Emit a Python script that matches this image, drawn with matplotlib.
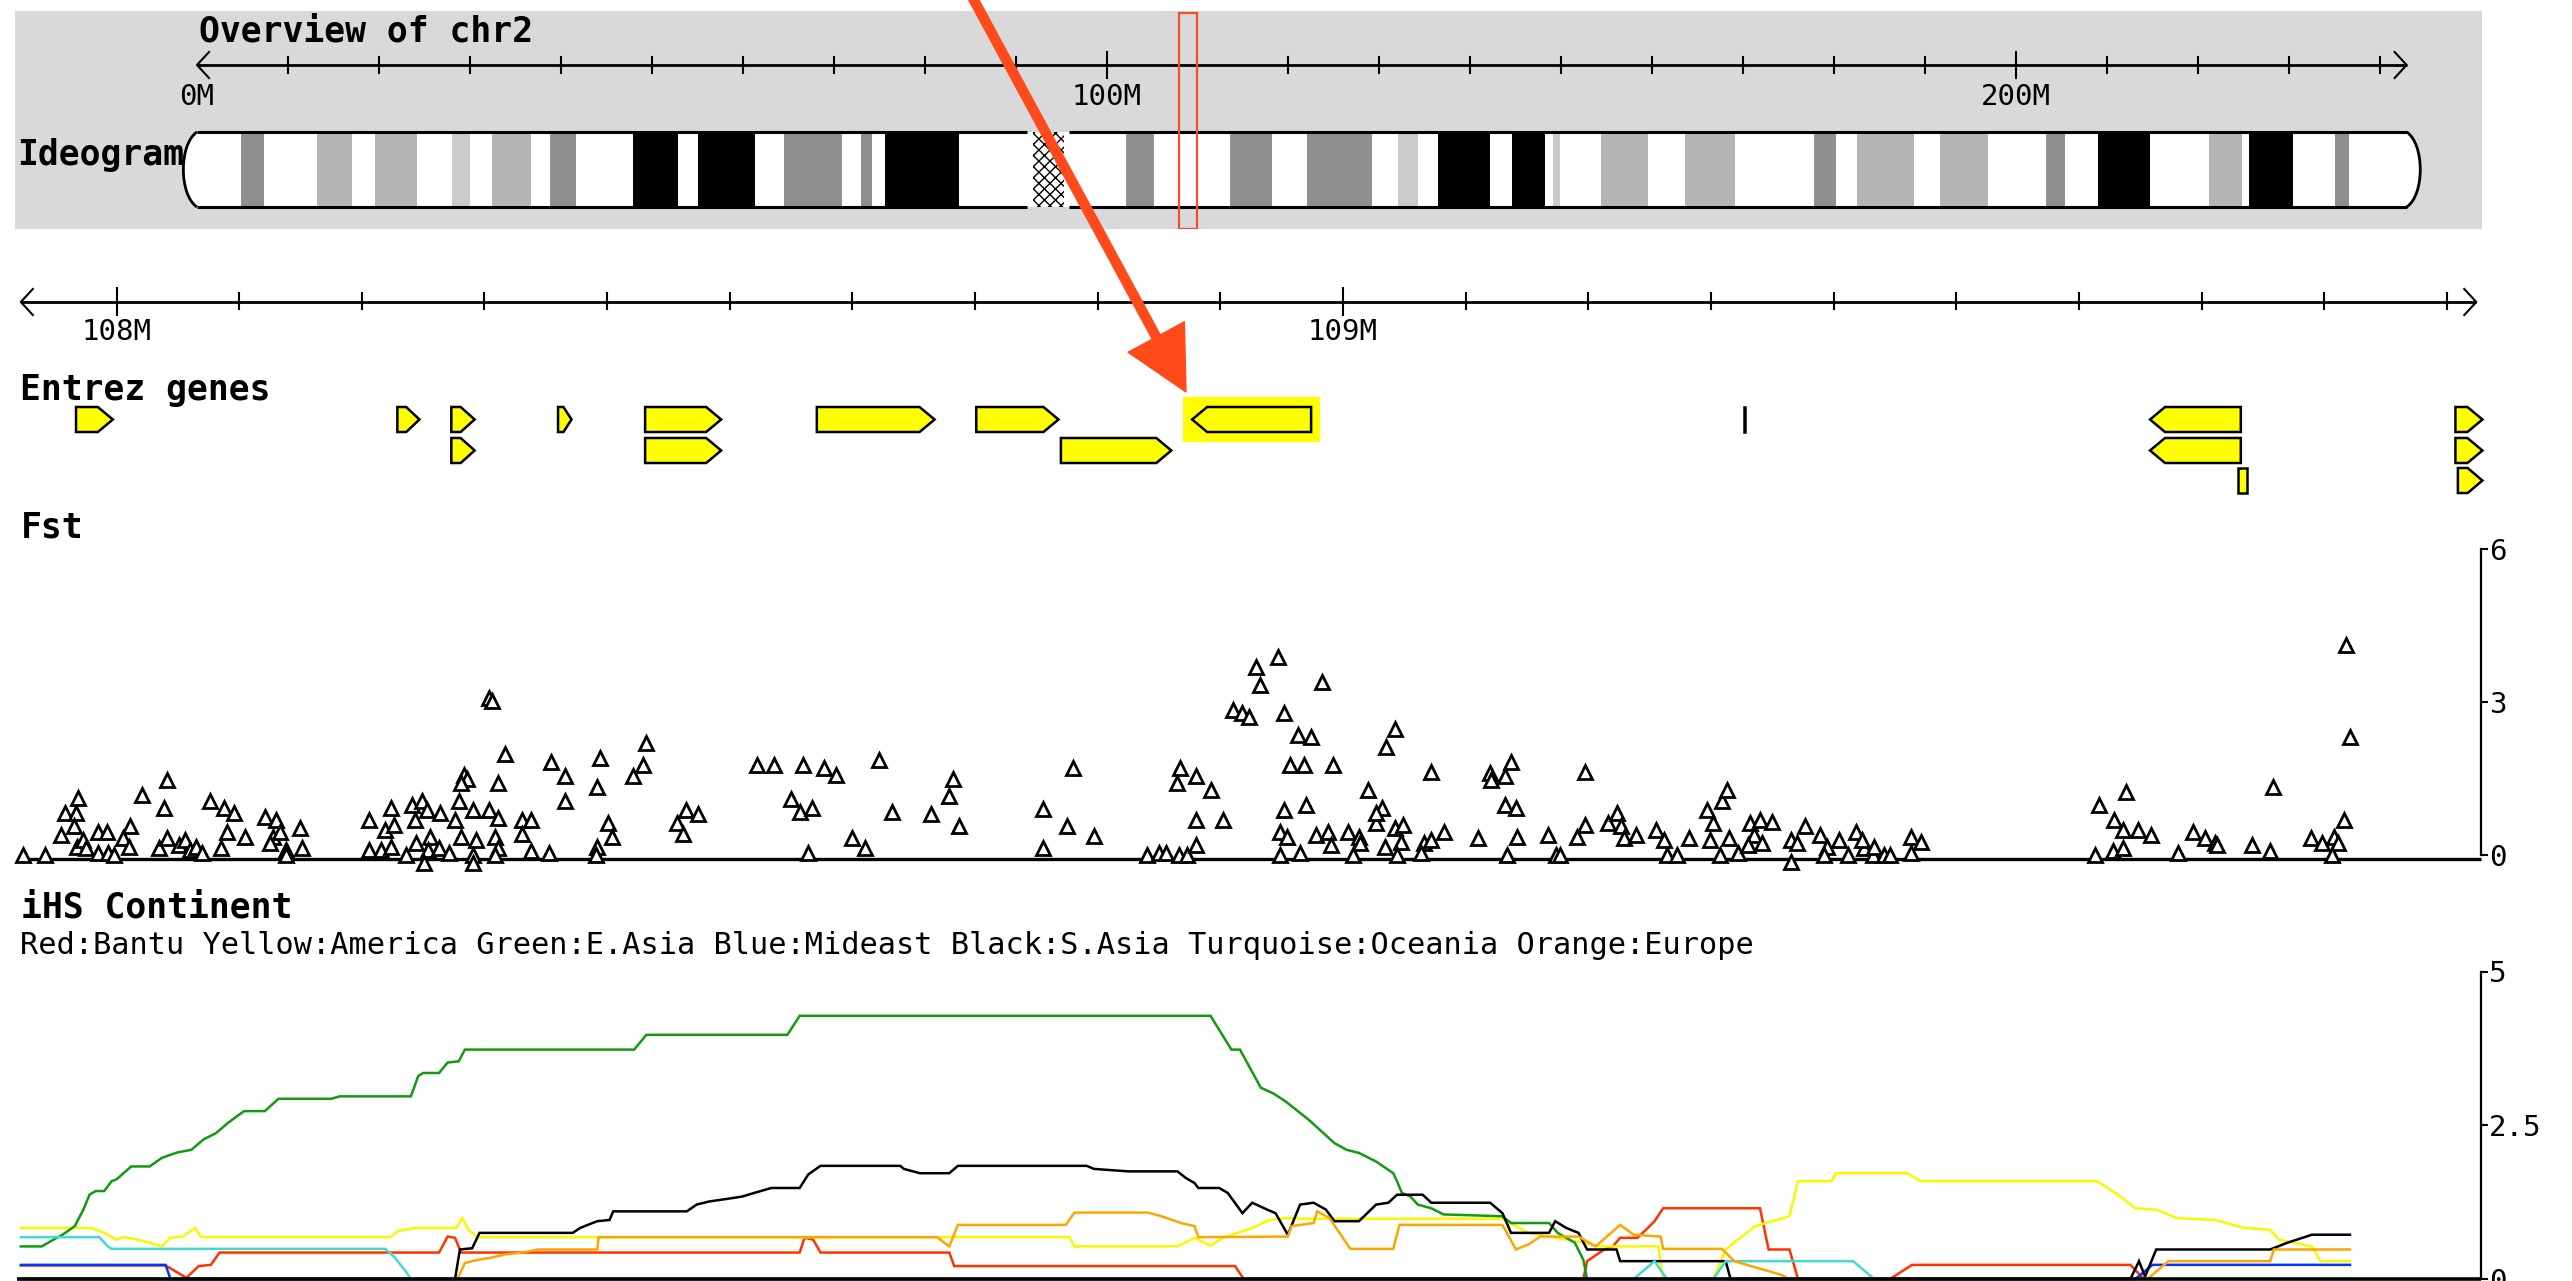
import matplotlib
matplotlib.use("Agg")
import matplotlib.pyplot as plt
from matplotlib.patches import Rectangle, Polygon, PathPatch, FancyArrowPatch, ArrowStyle
from matplotlib.path import Path

# ------------------------------------------------------------------ data
chrom_name = "chr2"
chrom_length_mb = 242.95
centromere_mb = (91.3, 95.9)
band_start = [4.8, 13.2, 19.6, 28.0, 32.4, 38.8, 47.9, 55.1, 64.5, 73.0, 75.7, 102.1,
              113.6, 122.1, 132.1, 136.5, 144.6, 149.1, 154.4, 163.6, 177.8, 182.5,
              191.6, 203.3, 209.0, 221.2, 225.6, 235.1]
band_end = [7.4, 17.0, 24.2, 30.0, 36.7, 41.7, 52.9, 61.3, 70.9, 74.2, 83.8, 105.2,
            118.2, 129.2, 134.3, 142.2, 148.2, 149.9, 159.5, 169.1, 180.2, 188.8,
            196.9, 205.4, 214.7, 224.9, 230.5, 236.6]
band_stain = ['gpos75', 'gpos50', 'gpos50', 'gpos25', 'gpos50', 'gpos75', 'gpos100',
              'gpos100', 'gpos75', 'gpos75', 'gpos100', 'gpos75', 'gpos75', 'gpos75',
              'gpos25', 'gpos100', 'gpos100', 'gpos25', 'gpos50', 'gpos50', 'gpos75',
              'gpos50', 'gpos50', 'gpos75', 'gpos100', 'gpos50', 'gpos100', 'gpos75']
overview_minor_ticks = list(range(10, 250, 10))
overview_labels = {0: "0M", 100: "100M", 200: "200M"}

window_start, window_end = 107.922, 109.924
detail_ticks = [round(108.0 + 0.1 * i, 1) for i in range(20)]
detail_labels = {108.0: "108M", 109.0: "109M"}

gene_start = [107.967, 108.229, 108.273, 108.360, 108.431, 108.571, 108.701, 108.877,
              109.327, 109.658, 109.907,
              108.273, 108.431, 108.770, 109.658, 109.907,
              109.730, 109.909]
gene_end = [107.997, 108.247, 108.292, 108.371, 108.493, 108.667, 108.768, 108.974,
            109.328, 109.732, 109.929,
            108.292, 108.493, 108.860, 109.732, 109.929,
            109.737, 109.929]
gene_strand = ['+', '+', '+', '+', '+', '+', '+', '-', '.', '-', '+',
               '+', '+', '+', '-', '+',
               '.', '+']
gene_row = [0, 0, 0, 0, 0, 0, 0, 0, 0, 0, 0,
            1, 1, 1, 1, 1,
            2, 2]
highlight_gene = 7

fst_pos = [
    107.924, 107.942, 107.955, 107.958, 107.967, 107.969, 107.965, 107.968, 107.973, 107.975,
    107.985, 107.992, 107.985, 107.993, 107.998, 108.005, 108.010, 108.011, 108.021, 108.041,
    108.039, 108.035, 108.041, 108.051, 108.056, 108.060, 108.065, 108.070, 108.076, 108.088,
    108.096, 108.090, 108.105, 108.085, 108.121, 108.130, 108.128, 108.133, 108.125, 108.138,
    108.150, 108.151, 108.138, 108.206, 108.224, 108.219, 108.226, 108.206, 108.216, 108.224,
    108.241, 108.249, 108.253, 108.243, 108.264, 108.276, 108.256, 108.244, 108.254, 108.263,
    108.271, 108.236, 108.251, 108.279, 108.283, 108.286, 108.281, 108.291, 108.281, 108.293,
    108.291, 108.291, 108.304, 108.306, 108.317, 108.311, 108.304, 108.311, 108.309, 108.311,
    108.309, 108.331, 108.338, 108.331, 108.338, 108.353, 108.354, 108.366, 108.366, 108.394,
    108.392, 108.401, 108.404, 108.392, 108.391, 108.421,
    108.432, 108.429, 108.464, 108.474, 108.457, 108.462, 108.522, 108.536, 108.560, 108.577,
    108.587, 108.622, 108.550, 108.557, 108.567, 108.564, 108.600, 108.610, 108.632, 108.664,
    108.682, 108.679, 108.687, 108.755, 108.755, 108.775, 108.797, 108.780, 108.840, 108.850,
    108.856, 108.866, 108.873, 108.880, 108.880, 108.902, 108.867, 108.865, 108.880, 108.892,
    108.910, 108.918, 108.923,
    108.929, 108.932, 108.947, 108.983, 108.952, 108.963, 108.974, 108.957, 108.968, 108.992,
    109.042, 109.035, 109.020, 109.072, 109.120, 109.121, 109.132, 109.137, 109.197, 108.952,
    108.970, 108.949, 108.954, 108.949, 108.965, 108.978, 108.988, 108.990, 109.004, 109.013,
    109.014, 109.008, 109.027, 109.032, 109.027, 109.034, 109.042, 109.049, 109.047, 109.044,
    109.066, 109.072, 109.082, 109.064, 109.110, 109.132, 109.141, 109.142, 109.134, 109.167,
    109.174, 109.177, 109.191, 109.197, 109.216, 109.223, 109.227, 109.229, 109.239, 109.255,
    109.262, 109.264, 109.272, 109.282, 109.297, 109.302, 109.309, 109.313, 109.299, 109.307,
    109.315, 109.322, 109.332, 109.340, 109.350, 109.335, 109.342, 109.330, 109.365, 109.365,
    109.377, 109.370, 109.389, 109.395, 109.404, 109.392, 109.412, 109.418, 109.425, 109.432,
    109.423, 109.433, 109.441, 109.446, 109.463, 109.471, 109.463, 109.613, 109.616, 109.638,
    109.629, 109.636, 109.648, 109.659, 109.628, 109.636, 109.681, 109.693, 109.703, 109.711,
    109.713, 109.741, 109.756, 109.758, 109.789, 109.798, 109.808, 109.811, 109.816, 109.806,
    109.818, 109.821]
fst_val = [
    0, 0, 0.39, 0.82, 0.82, 1.11, 0.56, 0.16, 0.29, 0.13,
    0.46, 0.46, 0.03, 0.03, 0, 0.33, 0.16, 0.56, 1.18, 1.47,
    0.92, 0.13, 0.33, 0.20, 0.29, 0.10, 0.16, 0.03, 1.05, 0.92,
    0.82, 0.46, 0.36, 0.13, 0.75, 0.69, 0.36, 0.46, 0.23, 0.10,
    0.52, 0.13, 0, 0.69, 0.92, 0.49, 0.59, 0.10, 0.10, 0.16,
    0.98, 1.05, 0.88, 0.69, 0.82, 0.69, 0.36, 0.23, 0.10, 0.13,
    0.03, 0, -0.16, 1.05, 1.57, 1.50, 1.41, 0.88, 0.36, 0.29,
    0, -0.16, 3.07, 3.01, 1.99, 1.41, 0.88, 0.72, 0.36, 0.13,
    0, 0.69, 0.69, 0.42, 0.07, 0.03, 1.83, 1.54, 1.05, 1.90,
    1.34, 0.62, 0.36, 0.16, 0, 1.54,
    2.19, 1.76, 0.88, 0.80, 0.62, 0.41, 1.76, 1.76, 1.76, 1.70,
    1.57, 1.86, 1.09, 0.85, 0.92, 0.03, 0.33, 0.14, 0.85, 0.80,
    1.50, 1.16, 0.56, 0.90, 0.13, 0.56, 0.37, 1.70, 0, 0.03,
    0.03, 0, 0, 0.20, 0.69, 0.69, 1.70, 1.41, 1.54, 1.27,
    2.84, 2.78, 2.71,
    3.69, 3.33, 3.89, 3.40, 2.78, 2.35, 2.32, 1.76, 1.76, 1.76,
    2.48, 2.12, 1.27, 1.63, 1.60, 1.47, 1.54, 1.83, 1.63, 0.88,
    0.98, 0.46, 0.36, 0, 0.03, 0.39, 0.46, 0.20, 0.46, 0.36,
    0.23, 0, 0.62, 0.92, 0.82, 0.16, 0.52, 0.59, 0.26, 0,
    0.23, 0.29, 0.46, 0.03, 0.33, 0.98, 0.92, 0.36, 0, 0.39,
    0, 0, 0.36, 0.59, 0.62, 0.82, 0.56, 0.33, 0.39, 0.49,
    0.29, 0, 0, 0.33, 0.88, 0.62, 1.05, 1.27, 0.29, 0,
    0.33, 0.03, 0.62, 0.69, 0.65, 0.39, 0.23, 0.20, 0.29, -0.13,
    0.56, 0.23, 0.39, 0.16, 0.29, 0, 0, 0.46, 0.13, 0,
    0.29, 0.16, 0, 0, 0.36, 0.26, 0.03, 0, 0.98, 1.24,
    0.69, 0.49, 0.49, 0.39, 0.07, 0.13, 0.03, 0.46, 0.33, 0.23,
    0.20, 0.20, 0.07, 1.34, 0.33, 0.23, 0.36, 0.23, 0.69, 0,
    4.12, 2.32]
fst_ticks = [0, 3, 6]

ihs_red_pos = [107.922, 108.040, 108.057, 108.067, 108.077, 108.084, 108.263, 108.270, 108.276,
               108.281, 108.557, 108.561, 108.568, 108.574, 108.679, 108.683, 108.912, 108.919,
               109.196, 109.199, 109.213, 109.220, 109.226, 109.240, 109.247, 109.254, 109.261,
               109.340, 109.347, 109.364, 109.371, 109.446, 109.464, 109.642, 109.653]
ihs_red_val = [0.22, 0.22, 0.02, 0.21, 0.23, 0.43, 0.43, 0.69, 0.67, 0.43, 0.43, 0.67, 0.64,
               0.43, 0.43, 0.21, 0.21, 0.0, 0.0, 0.29, 0.48, 0.53, 0.67, 0.67, 0.80, 0.94, 1.15,
               1.15, 0.48, 0.48, 0.0, 0.0, 0.23, 0.23, 0.0]
ihs_yellow_pos = [107.922, 107.979, 107.990, 108.000, 108.006, 108.017, 108.027, 108.037,
                  108.044, 108.054, 108.064, 108.069, 108.223, 108.230, 108.243, 108.277,
                  108.282, 108.287, 108.294, 108.777, 108.781, 108.865, 108.879, 108.892,
                  108.902, 108.926, 108.940, 108.953, 108.965, 109.130, 109.151, 109.171,
                  109.196, 109.209, 109.257, 109.261, 109.302, 109.312, 109.336, 109.364,
                  109.371, 109.398, 109.402, 109.460, 109.471, 109.615, 109.632, 109.646,
                  109.663, 109.680, 109.711, 109.735, 109.756, 109.763, 109.790, 109.797,
                  109.821]
ihs_yellow_val = [0.83, 0.83, 0.75, 0.64, 0.68, 0.64, 0.59, 0.53, 0.67, 0.69, 0.83, 0.68,
                  0.68, 0.78, 0.83, 0.83, 0.99, 0.80, 0.68, 0.68, 0.53, 0.53, 0.67, 0.54,
                  0.67, 0.83, 0.96, 0.99, 0.98, 0.98, 0.75, 0.68, 0.59, 0.53, 0.53, 0.0,
                  0.0, 0.48, 0.86, 1.02, 1.59, 1.59, 1.72, 1.72, 1.59, 1.59, 1.37, 1.15,
                  1.13, 0.99, 0.96, 0.83, 0.80, 0.64, 0.53, 0.29, 0.29]
ihs_green_pos = [107.922, 107.939, 107.946, 107.956, 107.966, 107.973, 107.978, 107.983,
                 107.990, 107.996, 108.000, 108.012, 108.027, 108.037, 108.044, 108.050,
                 108.061, 108.071, 108.081, 108.091, 108.104, 108.121, 108.132, 108.175,
                 108.182, 108.240, 108.246, 108.250, 108.263, 108.270, 108.279, 108.284,
                 108.422, 108.432, 108.547, 108.557, 108.892, 108.909, 108.916, 108.933,
                 108.943, 108.953, 108.972, 108.993, 109.003, 109.013, 109.027, 109.041,
                 109.044, 109.048, 109.055, 109.061, 109.072, 109.082, 109.130, 109.137,
                 109.168, 109.175, 109.189, 109.196, 109.199]
ihs_green_val = [0.53, 0.53, 0.61, 0.72, 0.86, 1.13, 1.37, 1.43, 1.43, 1.59, 1.62, 1.83,
                 1.83, 1.97, 2.02, 2.06, 2.10, 2.27, 2.37, 2.54, 2.73, 2.73, 2.93, 2.93,
                 2.97, 2.97, 3.30, 3.35, 3.35, 3.52, 3.54, 3.73, 3.73, 3.97, 3.97, 4.28,
                 4.28, 3.73, 3.73, 3.11, 3.02, 2.89, 2.59, 2.21, 2.10, 2.05, 1.91, 1.72,
                 1.59, 1.40, 1.34, 1.21, 1.15, 1.05, 1.02, 0.91, 0.91, 0.75, 0.59, 0.31, 0.0]
ihs_blue_pos = [107.922, 108.040, 108.044, 109.646, 109.660, 109.821]
ihs_blue_val = [0.23, 0.23, 0.0, 0.0, 0.23, 0.23]
ihs_black_pos = [107.922, 108.276, 108.280, 108.290, 108.296, 108.372, 108.378, 108.388,
                 108.392, 108.402, 108.405, 108.465, 108.473, 108.483, 108.497, 108.510,
                 108.520, 108.534, 108.557, 108.564, 108.574, 108.639, 108.642, 108.655,
                 108.679, 108.686, 108.791, 108.797, 108.825, 108.865, 108.872, 108.879,
                 108.882, 108.899, 108.906, 108.918, 108.926, 108.938, 108.945, 108.955,
                 108.965, 108.976, 108.986, 108.993, 109.013, 109.027, 109.037, 109.044,
                 109.065, 109.072, 109.120, 109.130, 109.137, 109.168, 109.173, 109.182,
                 109.192, 109.199, 109.223, 109.226, 109.312, 109.316, 109.642, 109.649,
                 109.654, 109.663, 109.756, 109.770, 109.790, 109.821]
ihs_black_val = [0.0, 0.0, 0.48, 0.50, 0.75, 0.75, 0.83, 0.91, 0.94, 0.96, 1.10, 1.10,
                 1.21, 1.26, 1.30, 1.34, 1.40, 1.48, 1.48, 1.70, 1.84, 1.84, 1.79, 1.72,
                 1.72, 1.84, 1.84, 1.79, 1.75, 1.75, 1.64, 1.56, 1.48, 1.48, 1.40, 1.07,
                 1.24, 1.13, 1.07, 0.72, 1.21, 1.24, 1.13, 0.94, 0.94, 1.21, 1.24, 1.37,
                 1.37, 1.24, 1.24, 1.07, 0.75, 0.75, 0.94, 0.83, 0.75, 0.48, 0.48, 0.29,
                 0.29, 0.0, 0.0, 0.29, 0.04, 0.48, 0.48, 0.59, 0.72, 0.72]
ihs_turq_pos = [107.922, 107.986, 107.993, 107.996, 108.219, 108.226, 108.236, 108.240,
                109.237, 109.254, 109.264, 109.302, 109.312, 109.416, 109.433]
ihs_turq_val = [0.68, 0.68, 0.53, 0.49, 0.49, 0.37, 0.12, 0.0, 0.0, 0.29, 0.0, 0.0,
                0.29, 0.29, 0.0]
ihs_orange_pos = [108.278, 108.284, 108.294, 108.304, 108.317, 108.331, 108.344, 108.392,
                  108.393, 108.669, 108.679, 108.686, 108.774, 108.781, 108.841, 108.852,
                  108.868, 108.879, 108.882, 108.955, 108.958, 108.976, 108.979, 108.989,
                  109.006, 109.041, 109.046, 109.130, 109.141, 109.151, 109.161, 109.192,
                  109.206, 109.226, 109.237, 109.259, 109.261, 109.309, 109.319, 109.357,
                  109.364, 109.656, 109.673, 109.756, 109.759, 109.821]
ihs_orange_val = [0.0, 0.26, 0.31, 0.34, 0.40, 0.43, 0.48, 0.48, 0.68, 0.68, 0.53, 0.88,
                  0.88, 1.08, 1.08, 1.02, 0.91, 0.86, 0.68, 0.69, 0.86, 0.91, 1.10, 0.99,
                  0.49, 0.49, 0.88, 0.88, 0.48, 0.56, 0.69, 0.69, 0.53, 0.88, 0.72, 0.69,
                  0.49, 0.49, 0.29, 0.07, 0.0, 0.0, 0.29, 0.29, 0.48, 0.48]
ihs_ticks = [0, 2.5, 5]
ihs_tick_labels = ["0", "2.5", "5"]
ihs_legend = ("Red:Bantu Yellow:America Green:E.Asia Blue:Mideast Black:S.Asia "
              "Turquoise:Oceania Orange:Europe")

# ------------------------------------------------------------------ styling
stain_color = {'gpos100': '#000000', 'gpos75': '#8f8f8f', 'gpos50': '#b5b5b5',
               'gpos25': '#cbcbcb'}
MONO = ['DejaVu Sans Mono', 'DejaVu Sans']
plt.rcParams['font.family'] = MONO

W, H, DPI = 2572, 1281, 100
fig = plt.figure(figsize=(W / DPI, H / DPI), dpi=DPI)
fig.patch.set_facecolor('white')


def px_axes(x0, y0, x1, y1):
    return fig.add_axes([x0 / W, 1 - y1 / H, (x1 - x0) / W, (y1 - y0) / H])


def ftext(x, y, s, **kw):
    kw.setdefault('va', 'center')
    kw.setdefault('ha', 'left')
    fig.text(x / W, 1 - y / H, s, **kw)


def bare(ax):
    ax.set_xticks([])
    ax.set_yticks([])
    for sp in ax.spines.values():
        sp.set_visible(False)


# ------------------------------------------------------------------ overview panel
OV_X0, OV_X1, OV_Y0, OV_Y1 = 15, 2482, 11, 229
OV_ZERO_PX, OV_PX_PER_MB = 197.0, 9.095
ax_ov = px_axes(OV_X0, OV_Y0, OV_X1, OV_Y1)
ax_ov.set_xlim((OV_X0 - OV_ZERO_PX) / OV_PX_PER_MB, (OV_X1 - OV_ZERO_PX) / OV_PX_PER_MB)
ax_ov.set_ylim(OV_Y1, OV_Y0)
bare(ax_ov)
ax_ov.set_facecolor('#d9d9d9')

ruler_y = 65
chev_mb = 12 / OV_PX_PER_MB
ax_ov.plot([0, chrom_length_mb], [ruler_y, ruler_y], color='black', lw=2.0, solid_capstyle='butt')
ax_ov.plot([chev_mb, 0, chev_mb], [ruler_y - 13, ruler_y, ruler_y + 13], color='black', lw=1.5)
ax_ov.plot([chrom_length_mb - chev_mb, chrom_length_mb, chrom_length_mb - chev_mb],
           [ruler_y - 13, ruler_y, ruler_y + 13], color='black', lw=1.5)
for t in overview_minor_ticks:
    if t % 100 == 0:
        ax_ov.plot([t, t], [ruler_y - 13, ruler_y + 13], color='black', lw=1.5)
    elif t < chrom_length_mb:
        ax_ov.plot([t, t], [ruler_y - 8, ruler_y + 8], color='black', lw=1.5)
for t, lab in overview_labels.items():
    ax_ov.text(t, 97, lab, ha='center', va='center', fontsize=21, color='black')

# ideogram
top, bot = 132, 207
cap = 2.0
L = chrom_length_mb
body = Path([(0, top), (L, top), (L + cap, top + 12), (L + cap, bot - 12), (L, bot),
             (0, bot), (-cap, bot - 12), (-cap, top + 12), (0, top), (0, top)],
            [Path.MOVETO, Path.LINETO, Path.CURVE4, Path.CURVE4, Path.CURVE4,
             Path.LINETO, Path.CURVE4, Path.CURVE4, Path.CURVE4, Path.CLOSEPOLY])
ax_ov.add_patch(PathPatch(body, facecolor='white', edgecolor='none', zorder=2))
for s, e, st in zip(band_start, band_end, band_stain):
    ax_ov.add_patch(Rectangle((s, top), e - s, bot - top, facecolor=stain_color[st],
                              edgecolor='none', zorder=3))
c0, c1 = centromere_mb
ax_ov.add_patch(Rectangle((c0 + 0.6, top), c1 - c0 - 1.2, bot - top, facecolor='white',
                          edgecolor='black', hatch='xxx', lw=0, zorder=3))
for y in (top, bot):
    ax_ov.plot([0, c0], [y, y], color='black', lw=2.2, zorder=4, solid_capstyle='butt')
    ax_ov.plot([c1, L], [y, y], color='black', lw=2.2, zorder=4, solid_capstyle='butt')
for x0, sgn in ((0, -1), (L, 1)):
    p = Path([(x0, top), (x0 + sgn * cap, top + 12), (x0 + sgn * cap, bot - 12), (x0, bot)],
             [Path.MOVETO, Path.CURVE4, Path.CURVE4, Path.CURVE4])
    ax_ov.add_patch(PathPatch(p, facecolor='none', edgecolor='black', lw=2.0, zorder=4))
ax_ov.text((17 - OV_X0) / (OV_X1 - OV_X0), 155, "Ideogram", transform=ax_ov.get_yaxis_transform(),
           fontsize=25, fontweight='bold', ha='left', va='center', zorder=1)
# current window marker
ax_ov.add_patch(Rectangle((window_start, 13), window_end - window_start, 216, fill=False,
                          edgecolor='#f2502c', lw=1.6, zorder=6))
ftext(199, 32, "Overview of " + chrom_name, fontsize=25, fontweight='bold')

# ------------------------------------------------------------------ detail x scale
DT_ZERO_PX, DT_PX_PER_MB = 116.5, 1226.5
XLIM = (108 + (0 - DT_ZERO_PX) / DT_PX_PER_MB, 108 + (W - DT_ZERO_PX) / DT_PX_PER_MB)
AXIS_FRAC = 2481 / W
BASE_FRAC0 = 17 / W

# ruler + genes
ax_g = px_axes(0, 240, W, 505)
ax_g.set_xlim(*XLIM)
ax_g.set_ylim(505, 240)
ax_g.axis('off')
ry = 302
cm = 12 / DT_PX_PER_MB
ax_g.plot([window_start, window_end], [ry, ry], color='black', lw=2.0, solid_capstyle='butt')
ax_g.plot([window_start + cm, window_start, window_start + cm], [ry - 13, ry, ry + 13],
          color='black', lw=1.5)
ax_g.plot([window_end - cm, window_end, window_end - cm], [ry - 13, ry, ry + 13],
          color='black', lw=1.5)
for t in detail_ticks:
    if t in detail_labels:
        ax_g.plot([t, t], [ry - 14, ry + 13], color='black', lw=1.5)
        ax_g.text(t, 332, detail_labels[t], ha='center', va='center', fontsize=21)
    else:
        ax_g.plot([t, t], [ry - 9, ry + 7], color='black', lw=1.5)

ftext(20, 390, "Entrez genes", fontsize=25, fontweight='bold')
row_y = [419.5, 450.5, 480.5]
gh = 25
tip_full = 15 / DT_PX_PER_MB
hs, he = gene_start[highlight_gene], gene_end[highlight_gene]
ax_g.add_patch(Rectangle((hs - 9 / DT_PX_PER_MB, row_y[0] - gh / 2 - 10),
                         he - hs + 18 / DT_PX_PER_MB, gh + 20, facecolor='#ffff00',
                         edgecolor='none', zorder=1))
for s, e, st, r in zip(gene_start, gene_end, gene_strand, gene_row):
    yc = row_y[r]
    t0, t1 = yc - gh / 2, yc + gh / 2
    tip = min(tip_full, 0.6 * (e - s))
    if st == '+':
        pts = [(s, t0), (e - tip, t0), (e, yc), (e - tip, t1), (s, t1)]
    elif st == '-':
        pts = [(e, t0), (s + tip, t0), (s, yc), (s + tip, t1), (e, t1)]
    else:
        pts = [(s, t0), (e, t0), (e, t1), (s, t1)]
    ax_g.add_patch(Polygon(pts, closed=True, facecolor='#ffff00', edgecolor='black',
                           lw=1.8, joinstyle='miter', zorder=3))

# ------------------------------------------------------------------ Fst panel
ZERO_FST_PX, FST_PX_PER_UNIT = 855, 51.0
f0, f1 = 540, 872
ax_f = px_axes(0, f0, W, f1)
ax_f.set_xlim(*XLIM)
ax_f.set_ylim((ZERO_FST_PX - f1) / FST_PX_PER_UNIT, (ZERO_FST_PX - f0) / FST_PX_PER_UNIT)
ftext(21, 527, "Fst", fontsize=25, fontweight='bold')
ax_f.plot([BASE_FRAC0, AXIS_FRAC], [-0.08, -0.08], transform=ax_f.get_yaxis_transform(),
          color='black', lw=2.4, zorder=1, solid_capstyle='butt')
ax_f.plot(fst_pos, fst_val, ls='none', marker='^', ms=9.5, mfc='white', mec='black',
          mew=2.0, zorder=3)

# ------------------------------------------------------------------ iHS panel
ZERO_IHS_PX, IHS_PX_PER_UNIT = 1279, 61.5
i0, i1 = 960, 1281
ax_i = px_axes(0, i0, W, i1)
ax_i.set_xlim(*XLIM)
ax_i.set_ylim((ZERO_IHS_PX - i1) / IHS_PX_PER_UNIT, (ZERO_IHS_PX - i0) / IHS_PX_PER_UNIT)
ftext(21, 907, "iHS Continent", fontsize=25, fontweight='bold')
ftext(20, 945, ihs_legend, fontsize=21.8)
series = [(ihs_red_pos, ihs_red_val, '#ff3300'),
          (ihs_yellow_pos, ihs_yellow_val, '#f8f800'),
          (ihs_green_pos, ihs_green_val, '#129a12'),
          (ihs_blue_pos, ihs_blue_val, '#0038ff'),
          (ihs_black_pos, ihs_black_val, '#000000'),
          (ihs_turq_pos, ihs_turq_val, '#44d8d0'),
          (ihs_orange_pos, ihs_orange_val, '#ffa500')]
for k, (xs, ys, col) in enumerate(series):
    ax_i.plot(xs, ys, color=col, lw=1.8, zorder=2 + k * 0.1, solid_joinstyle='miter')
ax_i.plot([BASE_FRAC0, AXIS_FRAC], [0, 0], transform=ax_i.get_yaxis_transform(),
          color='black', lw=2.6, zorder=5, solid_capstyle='butt', clip_on=False)

# right-hand value axes
for ax, ticks, labels, top_v in ((ax_f, fst_ticks, [str(t) for t in fst_ticks], 6),
                                 (ax_i, ihs_ticks, ihs_tick_labels, 5)):
    for s in ('left', 'top', 'bottom'):
        ax.spines[s].set_visible(False)
    ax.patch.set_alpha(0)
    ax.spines['right'].set_position(('axes', AXIS_FRAC))
    ax.spines['right'].set_bounds(0, top_v)
    ax.spines['right'].set_linewidth(1.6)
    ax.yaxis.tick_right()
    ax.set_yticks(ticks)
    ax.set_yticklabels(labels)
    ax.set_xticks([])
    ax.tick_params(axis='y', direction='out', length=5, width=1.5, labelsize=21, pad=1)

# ------------------------------------------------------------------ pointer arrow
arrow = FancyArrowPatch(posA=(963 / W, 1 + 20 / H), posB=(1186 / W, 1 - 392 / H),
                        transform=fig.transFigure,
                        arrowstyle=ArrowStyle.Simple(head_length=45, head_width=46, tail_width=6.5),
                        mutation_scale=1, color='#ff4a1c', shrinkA=0, shrinkB=0, zorder=20)
fig.add_artist(arrow)

fig.savefig("out.png", dpi=DPI, facecolor='white')
